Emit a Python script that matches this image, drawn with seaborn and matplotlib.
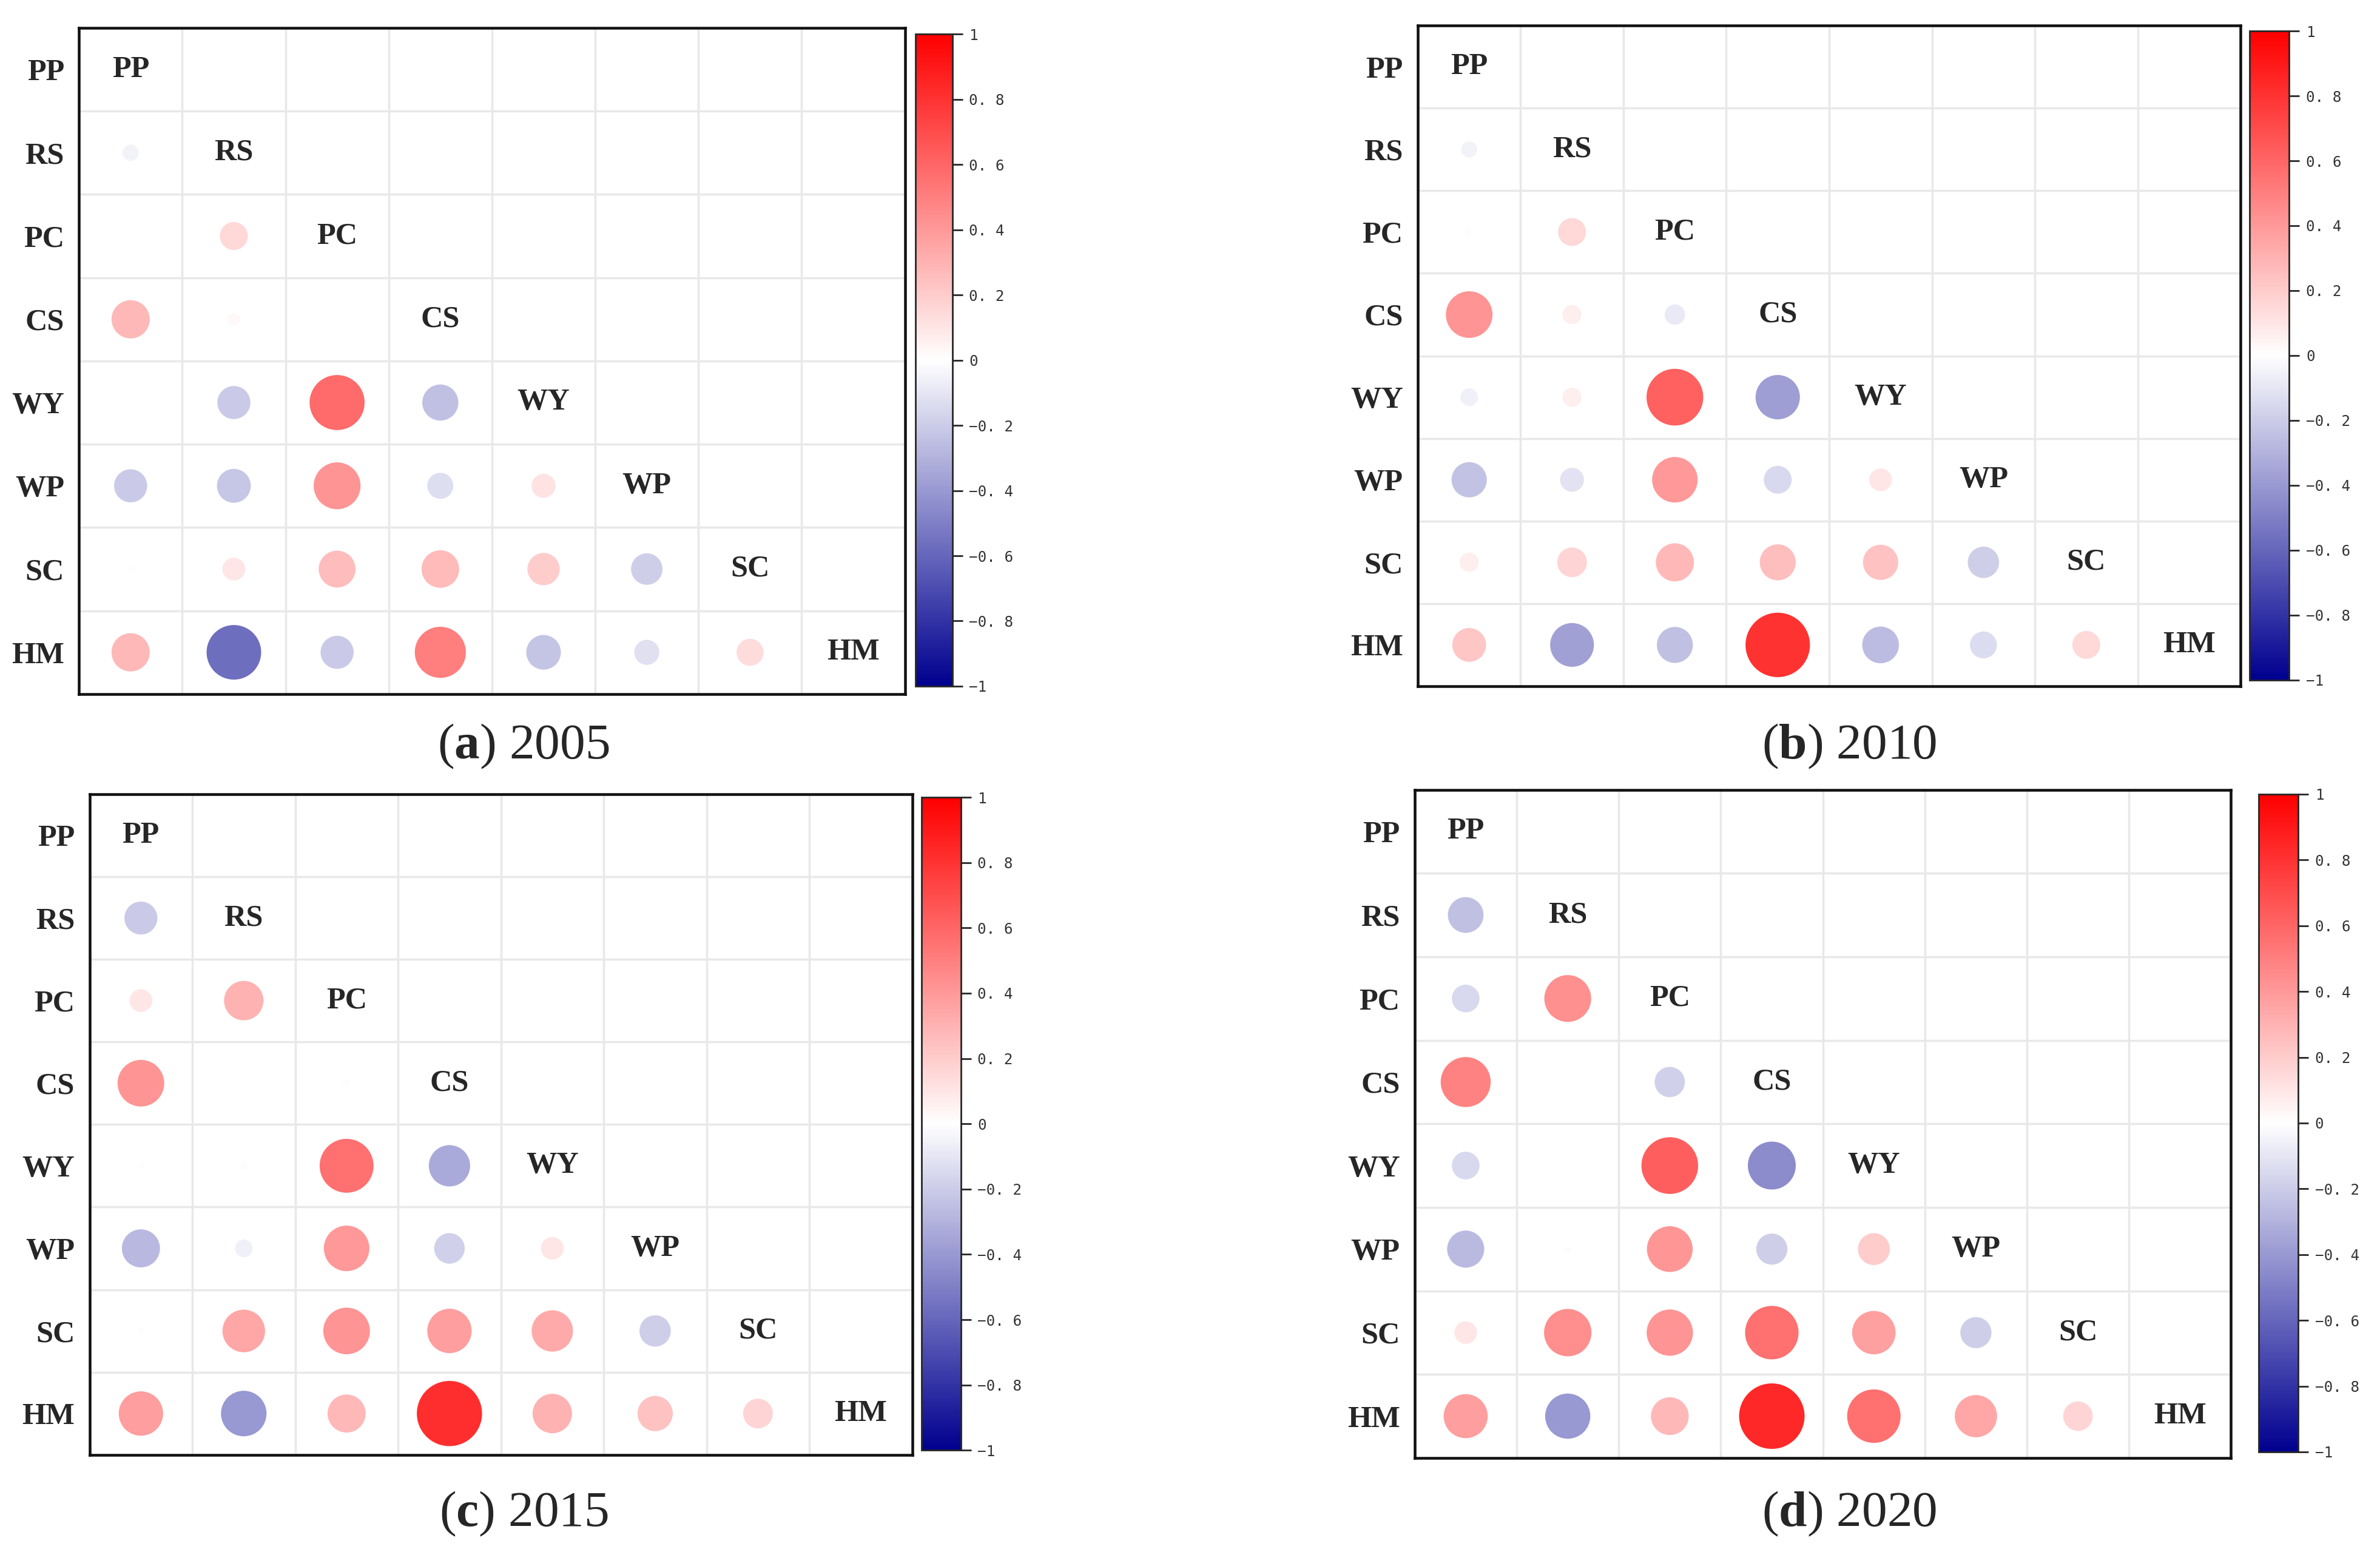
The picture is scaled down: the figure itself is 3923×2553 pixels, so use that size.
import numpy as np
import pandas as pd
import matplotlib
matplotlib.use("Agg")
import matplotlib.pyplot as plt
from matplotlib.colors import LinearSegmentedColormap, Normalize
from matplotlib.cm import ScalarMappable
import seaborn as sns

sns.set_style("white")
plt.rcParams["font.family"] = ["Liberation Serif", "DejaVu Serif"]
plt.rcParams["mathtext.fontset"] = "custom"
plt.rcParams["mathtext.rm"] = "Liberation Serif"
plt.rcParams["mathtext.bf"] = "Liberation Serif:bold"

labels = ["PP", "RS", "PC", "CS", "WY", "WP", "SC", "HM"]

# lower triangle of the correlation matrix, row by row
r2005 = [
    [],
    [-0.05],
    [0.0, 0.15],
    [0.28, 0.03, 0.0],
    [0.0, -0.21, 0.58, -0.25],
    [-0.21, -0.22, 0.42, -0.13, 0.11],
    [0.01, 0.10, 0.26, 0.27, 0.20, -0.19],
    [0.28, -0.57, -0.21, 0.50, -0.23, -0.12, 0.14],
]
r2010 = [
    [],
    [-0.05],
    [0.015, 0.15],
    [0.42, 0.07, -0.08],
    [-0.06, 0.07, 0.62, -0.38],
    [-0.24, -0.11, 0.40, -0.15, 0.10],
    [0.07, 0.17, 0.28, 0.25, 0.24, -0.19],
    [0.22, -0.37, -0.25, 0.80, -0.26, -0.14, 0.15],
]
r2015 = [
    [],
    [-0.21],
    [0.10, 0.30],
    [0.42, 0.0, 0.01],
    [0.01, -0.01, 0.56, -0.33],
    [-0.28, -0.06, 0.40, -0.18, 0.10],
    [0.01, 0.35, 0.42, 0.38, 0.33, -0.19],
    [0.38, -0.40, 0.28, 0.82, 0.30, 0.24, 0.17],
]
r2020 = [
    [],
    [-0.25],
    [-0.15, 0.43],
    [0.49, 0.0, -0.18],
    [-0.15, 0.0, 0.63, -0.45],
    [-0.27, 0.01, 0.41, -0.19, 0.20],
    [0.10, 0.44, 0.42, 0.56, 0.37, -0.19],
    [0.38, -0.40, 0.28, 0.84, 0.56, 0.35, 0.17],
]

panels = [
    ("a", "2005", r2005),
    ("b", "2010", r2010),
    ("c", "2015", r2015),
    ("d", "2020", r2020),
]

cbar_ticks = [-1, -0.8, -0.6, -0.4, -0.2, 0, 0.2, 0.4, 0.6, 0.8, 1]
cbar_ticklabels = ["\u22121", "\u22120. 8", "\u22120. 6", "\u22120. 4", "\u22120. 2",
                   "0", "0. 2", "0. 4", "0. 6", "0. 8", "1"]

# layout (figure fractions)
ax_pos = [
    [0.0332, 0.552, 0.347, 0.430],
    [0.5957, 0.557, 0.3457, 0.4265],
    [0.0376, 0.0608, 0.3457, 0.4265],
    [0.5944, 0.0588, 0.343, 0.4314],
]
cax_pos = [
    [0.3846, 0.557, 0.0155, 0.421],
    [0.9452, 0.561, 0.0166, 0.419],
    [0.3871, 0.0637, 0.0166, 0.4216],
    [0.9490, 0.0627, 0.0166, 0.4246],
]
cap_pos = [(0.220, 0.518), (0.777, 0.518), (0.220, 0.0225), (0.777, 0.0225)]

cmap = LinearSegmentedColormap.from_list(
    "corr", [(0.0, "#00008f"), (0.5, "#ffffff"), (1.0, "#ff0000")])
norm = Normalize(-1, 1)

fig = plt.figure(figsize=(15.692, 10.212), dpi=250)

for k, (letter, year, tri) in enumerate(panels):
    rows = []
    for i, vals in enumerate(tri):
        for j, v in enumerate(vals):
            rows.append({"x": j, "y": i, "r": v, "abs_r": abs(v)})
    df = pd.DataFrame(rows)

    ax = fig.add_axes(ax_pos[k])
    cell_pt = ax_pos[k][2] * fig.get_figwidth() * 72 / len(labels)
    smax = (0.7 * cell_pt) ** 2

    sns.scatterplot(data=df, x="x", y="y", hue="r", size="abs_r",
                    palette=cmap, hue_norm=(-1, 1),
                    sizes=(0, smax), size_norm=(0, 1),
                    linewidth=0, legend=False, ax=ax, zorder=3)

    n = len(labels)
    ax.set_xlim(-0.5, n - 0.5)
    ax.set_ylim(n - 0.5, -0.5)
    for b in np.arange(0.5, n - 0.5, 1):
        ax.axvline(b, color="#e8e8e8", lw=1.0, zorder=1)
        ax.axhline(b, color="#e8e8e8", lw=1.0, zorder=1)
    for i, lab in enumerate(labels):
        ax.text(i, i, lab, ha="center", va="center", fontsize=14.5,
                fontweight="bold", zorder=4)
    ax.set_xticks([])
    ax.set_yticks(range(n))
    ax.set_yticklabels(labels, fontsize=14.5, fontweight="bold")
    ax.tick_params(axis="y", length=0, pad=7)
    ax.set_xlabel("")
    ax.set_ylabel("")
    for sp in ax.spines.values():
        sp.set_visible(True)
        sp.set_color("#111111")
        sp.set_linewidth(1.3)

    cax = fig.add_axes(cax_pos[k])
    cb = fig.colorbar(ScalarMappable(norm=norm, cmap=cmap), cax=cax)
    cb.set_ticks(cbar_ticks)
    cb.set_ticklabels(cbar_ticklabels)
    cb.ax.tick_params(labelsize=7, length=5, width=0.8, pad=3,
                      direction="out", labelcolor="#333333")
    for t in cb.ax.get_yticklabels():
        t.set_family("DejaVu Sans Mono")
    cb.outline.set_linewidth(0.8)

    fig.text(cap_pos[k][0], cap_pos[k][1],
             r"($\mathbf{%s}$) %s" % (letter, year),
             ha="center", va="center", fontsize=24)

fig.savefig("out.png", dpi=250)
